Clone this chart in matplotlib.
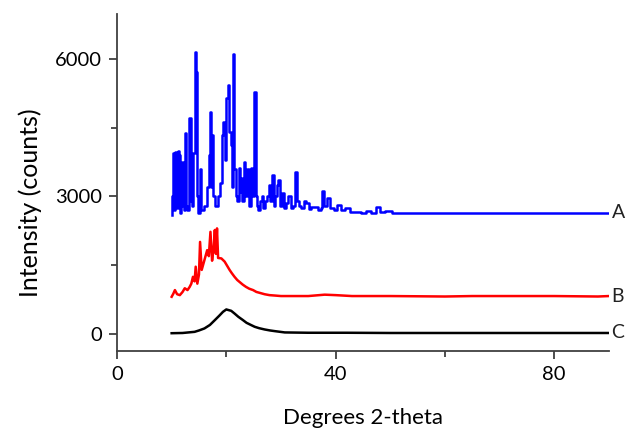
import numpy as np
import matplotlib
matplotlib.use('Agg')
import matplotlib.pyplot as plt

plt.rcParams['font.family'] = ['Lato', 'DejaVu Sans']

# pattern A (top, blue)
a_x = [10.0, 10.2, 10.4, 10.6, 10.8, 11.0, 11.2, 11.4, 11.6, 11.8, 12.1, 12.3, 12.6, 12.8,
       13.0, 13.4, 13.6, 13.8, 14.0, 14.4, 14.6, 14.8, 15.0, 15.2, 15.4, 15.8, 16.2, 16.6,
       17.0, 17.1, 17.3, 17.5, 17.8, 18.2, 18.6, 19.0, 19.3, 19.6, 19.8, 20.1, 20.4, 20.7,
       20.9, 21.1, 21.4, 21.6, 21.8, 22.1, 22.4, 22.6, 22.8, 23.0, 23.3, 23.6, 24.0, 24.3,
       24.6, 24.9, 25.3, 25.5, 25.7, 26.0, 26.3, 26.6, 26.9, 27.3, 27.6, 27.9, 28.2, 28.5,
       28.8, 29.1, 29.4, 29.7, 30.0, 30.3, 30.7, 31.1, 31.5, 32.0, 32.4, 32.8, 33.1, 33.5,
       34.0, 34.4, 34.8, 35.3, 35.8, 36.4, 37.0, 37.5, 37.7, 38.2, 38.8, 39.3, 40.0, 40.6,
       41.2, 42.1, 43.0, 44.3, 45.0, 46.0, 47.0, 47.6, 48.5, 49.7, 51.0, 55.0, 60.0, 65.0,
       70.0, 75.0, 80.0, 85.0, 90.0]
a_y = [2600, 3000, 3950, 2700, 3980, 2750, 4000, 3900, 2650, 2800, 3760, 2700, 4380, 2800,
       2700, 4720, 2900, 2800, 3950, 6150, 5720, 3000, 2650, 3600, 2700, 2700, 2800, 3200,
       3900, 4850, 3200, 4340, 3000, 2800, 3000, 3300, 4340, 4630, 3800, 5140, 5430, 4400,
       4120, 3200, 6100, 3600, 3000, 2900, 3620, 3100, 3400, 2900, 3760, 3000, 3600, 2800,
       3620, 3000, 5270, 3000, 2800, 2700, 2900, 3000, 2750, 2900, 3000, 3250, 2900, 3470,
       2800, 3000, 3250, 3360, 2800, 3070, 2750, 2850, 3000, 2750, 2800, 3540, 2900, 2800,
       2750, 2900, 2850, 2720, 2780, 2780, 2700, 2750, 3130, 2800, 2960, 2750, 2700, 2820,
       2700, 2740, 2660, 2670, 2640, 2680, 2640, 2780, 2660, 2690, 2640, 2650, 2630, 2650,
       2640, 2640, 2650, 2640, 2650]

# pattern B (middle, red)
b_x = [10.0, 10.3, 10.6, 11.0, 11.5, 12.0, 12.4, 12.9, 13.3, 13.6, 13.9, 14.2, 14.4, 14.7,
       15.0, 15.2, 15.5, 16.0, 16.5, 16.8, 17.1, 17.4, 17.7, 17.9, 18.1, 18.3, 18.5, 19.1,
       19.7, 20.2, 20.6, 21.0, 21.5, 22.0, 22.4, 23.0, 23.6, 24.2, 24.9, 25.5, 26.1, 27.0,
       27.9, 29.0, 30.0, 35.0, 38.0, 40.0, 43.0, 50.0, 60.0, 65.0, 70.0, 80.0, 88.0, 90.0]
b_y = [814, 880, 960, 870, 850, 920, 1000, 960, 1030, 1100, 1250, 1150, 1470, 1100,
       1300, 2010, 1400, 1615, 1830, 1700, 2230, 1600, 1900, 2270, 1750, 2305, 1660, 1650,
       1580, 1480, 1400, 1330, 1250, 1180, 1140, 1080, 1030, 990, 960, 920, 900, 870,
       850, 840, 830, 830, 860, 850, 830, 830, 820, 830, 830, 830, 820, 830]

# pattern C (bottom, black)
c_x = [10.0, 12.0, 14.2, 15.0, 16.0, 17.0, 17.9, 18.7, 19.4, 20.0, 20.9, 21.5, 22.2, 23.0,
       23.7, 24.5, 25.2, 26.0, 27.0, 28.0, 28.9, 30.7, 35.0, 42.0, 50.0, 60.0, 70.0, 80.0, 90.0]
c_y = [20, 25, 50, 80, 124, 200, 305, 400, 487, 538, 508, 450, 378, 310,
       247, 200, 160, 130, 102, 80, 65, 37, 30, 30, 25, 25, 25, 25, 25]

series = [(a_x, a_y, '#0000ff', 'A', 'steps-mid'),
          (b_x, b_y, '#ff0000', 'B', 'default'),
          (c_x, c_y, 'black', 'C', 'default')]

fig = plt.figure(figsize=(6.29, 4.34), dpi=100)
ax = fig.add_axes([0.186, 0.191, 0.782, 0.777])

for xs, ys, col, name, ds in series:
    ax.plot(xs, ys, color=col, lw=1.8, drawstyle=ds)
    ax.text(90.5, ys[-1], name, color='#222222', fontsize=14, va='center', ha='left', clip_on=False)

ax.set_xlim(0, 90)
ax.set_ylim(-370, 6980)
ax.set_xticks([0, 40, 80])
ax.set_xticks([20, 60], minor=True)
ax.set_yticks([0, 3000, 6000])
ax.set_yticks([1500, 4500], minor=True)

for s in ['top', 'right']:
    ax.spines[s].set_visible(False)
for s in ['left', 'bottom']:
    ax.spines[s].set_color('#404040')
    ax.spines[s].set_linewidth(1.3)

ax.tick_params(which='major', length=6, width=1.3, color='#404040', labelsize=14.5, pad=5)
ax.tick_params(which='minor', length=4, width=1.3, color='#404040')

ax.set_xlabel('Degrees 2-theta', fontsize=16, labelpad=18)
ax.set_ylabel('Intensity (counts)', fontsize=18)
ax.yaxis.set_label_coords(-0.152, 0.44)

fig.savefig('out.png', dpi=100)
